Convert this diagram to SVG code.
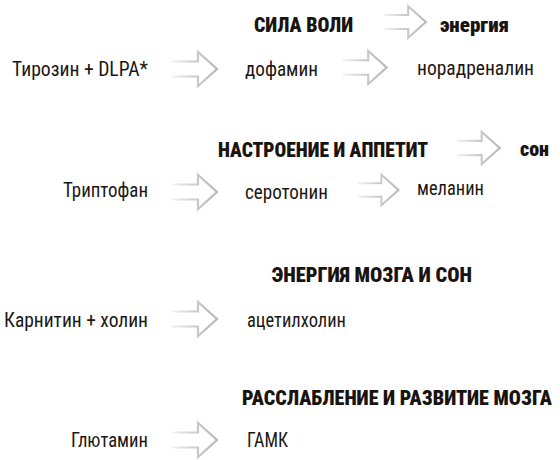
<svg xmlns="http://www.w3.org/2000/svg" width="560" height="460" viewBox="0 0 560 460">
<defs>
<style>
.t{font-family:"Roboto","Liberation Sans",sans-serif;font-size:19.5px;fill:#1c1714;font-stretch:condensed}
.h{font-family:"Roboto","Liberation Sans",sans-serif;font-size:20.5px;font-weight:900;fill:#1a1410;font-stretch:condensed}
.hs{font-family:"Roboto","Liberation Sans",sans-serif;font-size:21px;font-weight:900;fill:#1a1410;font-stretch:condensed}
</style>
<linearGradient id="g" x1="0" y1="0" x2="1" y2="0">
<stop offset="0" stop-color="#f2f2f2"/>
<stop offset="0.5" stop-color="#cbcbcb"/>
<stop offset="1" stop-color="#b8b8b8"/>
</linearGradient>
<path id="arr" d="M0,-7.5 H26 V-17 L45,0 L26,17 V7.5 H0" fill="none" stroke="url(#g)" stroke-width="2.2" stroke-linejoin="miter"/>
</defs>
<rect width="560" height="460" fill="#ffffff"/>

<g id="connectors">
<use href="#arr" transform="translate(384,22) scale(0.93)"/>
<use href="#arr" transform="translate(172,69)"/>
<use href="#arr" transform="translate(343,67.5) scale(0.97)"/>
<use href="#arr" transform="translate(457,148) scale(0.95)"/>
<use href="#arr" transform="translate(172,192)"/>
<use href="#arr" transform="translate(358,190) scale(0.9)"/>
<use href="#arr" transform="translate(172,319)"/>
<use href="#arr" transform="translate(172,440)"/>
</g>

<g id="sila-voli"><text class="h" x="254" y="32" textLength="99" lengthAdjust="spacingAndGlyphs">СИЛА ВОЛИ</text></g>
<g id="energiya"><text class="hs" x="440" y="32" textLength="69" lengthAdjust="spacingAndGlyphs">энергия</text></g>
<g id="tirozin"><text class="t" x="12" y="76" textLength="136" lengthAdjust="spacingAndGlyphs">Тирозин + DLPA*</text></g>
<g id="dofamin"><text class="t" x="245" y="76" textLength="73" lengthAdjust="spacingAndGlyphs">дофамин</text></g>
<g id="noradrenalin"><text class="t" x="417" y="75" textLength="117" lengthAdjust="spacingAndGlyphs">норадреналин</text></g>

<g id="nastroenie"><text class="h" x="218" y="157" textLength="210" lengthAdjust="spacingAndGlyphs">НАСТРОЕНИЕ И АППЕТИТ</text></g>
<g id="son"><text class="hs" x="520" y="156" textLength="29" lengthAdjust="spacingAndGlyphs">сон</text></g>
<g id="triptofan"><text class="t" x="63" y="197" textLength="85" lengthAdjust="spacingAndGlyphs">Триптофан</text></g>
<g id="serotonin"><text class="t" x="245" y="199" textLength="83" lengthAdjust="spacingAndGlyphs">серотонин</text></g>
<g id="melanin"><text class="t" x="417" y="195" textLength="67" lengthAdjust="spacingAndGlyphs">меланин</text></g>

<g id="energiya-mozga"><text class="h" x="272" y="282" textLength="200" lengthAdjust="spacingAndGlyphs">ЭНЕРГИЯ МОЗГА И СОН</text></g>
<g id="karnitin"><text class="t" x="4" y="327" textLength="144" lengthAdjust="spacingAndGlyphs">Карнитин + холин</text></g>
<g id="acetilholin"><text class="t" x="247" y="327" textLength="99" lengthAdjust="spacingAndGlyphs">ацетилхолин</text></g>

<g id="rasslablenie"><text class="h" x="242" y="405" textLength="310" lengthAdjust="spacingAndGlyphs">РАССЛАБЛЕНИЕ И РАЗВИТИЕ МОЗГА</text></g>
<g id="glutamin"><text class="t" x="71" y="447" textLength="77" lengthAdjust="spacingAndGlyphs">Глютамин</text></g>
<g id="gamk"><text class="t" x="247" y="447" textLength="41" lengthAdjust="spacingAndGlyphs">ГАМК</text></g>
</svg>
